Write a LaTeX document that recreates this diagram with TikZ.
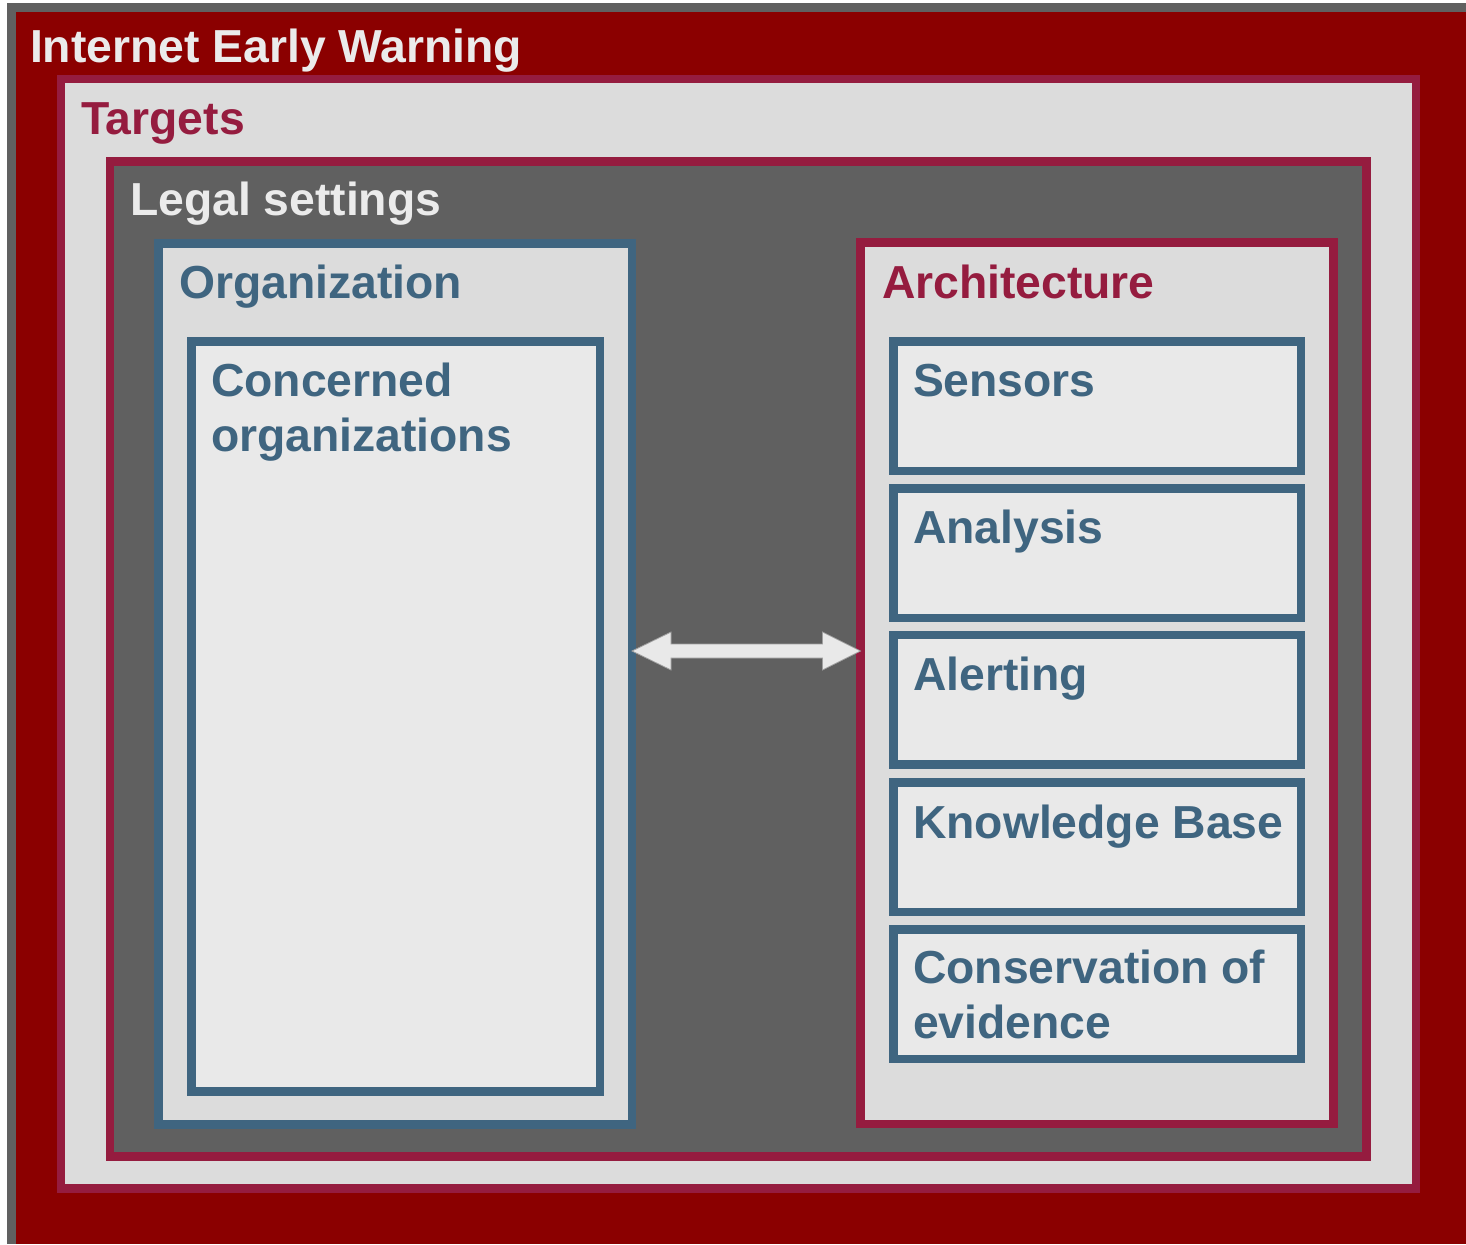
\documentclass[tikz,border=0pt]{standalone}
\usepackage{fontspec}
\setmainfont{Liberation Sans}
\usetikzlibrary{calc}
\definecolor{bgred}{HTML}{8B0000}
\definecolor{crim}{HTML}{951C3F}
\definecolor{dgray}{HTML}{606060}
\definecolor{lgray}{HTML}{DCDCDC}
\definecolor{pale}{HTML}{E9E9E9}
\definecolor{steel}{HTML}{3F6580}
\definecolor{wtext}{HTML}{EBEBEB}
\begin{document}
\begin{tikzpicture}[x=1pt,y=-1pt,
  frame/.style={draw, line width=8.5pt, inner sep=0pt, outer sep=0pt},
  redframe/.style={frame, draw=crim},
  blueframe/.style={frame, draw=steel},
  lbl/.style={inner sep=0pt, outer sep=0pt, anchor=base west, align=left,
    font=\bfseries\fontsize{46.3}{54.5}\selectfont},
  arrowshape/.style={fill=pale, draw=gray!75, line width=0.8pt, line join=miter}
]
\useasboundingbox (0,0) rectangle (1466,1244);
\fill[white] (0,0) rectangle (1466,1244);
\fill[dgray] (7,3) rectangle (1466,1244);
\fill[bgred] (16,12) rectangle (1466,1244);

% nested boxes
\node[redframe, fill=lgray, minimum width=1355pt, minimum height=1109.5pt] (targets) at (738.5,633.75) {};
\node[redframe, fill=dgray, minimum width=1256.5pt, minimum height=995pt] (legal) at (738.25,659) {};
\node[blueframe, fill=lgray, minimum width=473.5pt, minimum height=881pt] (org) at (395.25,684) {};
\node[blueframe, fill=pale, minimum width=408.5pt, minimum height=750pt] (concerned) at (395.75,716.5) {};
\node[redframe, fill=lgray, minimum width=473pt, minimum height=881.5pt] (arch) at (1097,683.25) {};
\node[blueframe, fill=pale, minimum width=407.5pt, minimum height=129.5pt] (sensors) at (1097.25,406) {};
\node[blueframe, fill=pale, minimum width=407.5pt, minimum height=129.5pt] (analysis) at (1097.25,553) {};
\node[blueframe, fill=pale, minimum width=407.5pt, minimum height=129.5pt] (alerting) at (1097.25,699.5) {};
\node[blueframe, fill=pale, minimum width=407.5pt, minimum height=129.5pt] (kb) at (1097.25,847) {};
\node[blueframe, fill=pale, minimum width=407.5pt, minimum height=129.5pt] (cons) at (1097.25,994) {};

% labels (base anchor = baseline of the last line)
\node[lbl, text=wtext] (tiew) at (30,63) {Internet Early Warning};
\node[lbl, text=crim] (ttargets) at (81,135) {Targets};
\node[lbl, text=wtext] (tlegal) at (130,215) {Legal settings};
\node[lbl, text=steel] (torg) at (179,298) {Organization};
\node[lbl, text=steel] (tconc) at (211,451) {Concerned\\organizations};
\node[lbl, text=crim] (tarch) at (882,298) {Architecture};
\node[lbl, text=steel] (tsens) at (913,396) {Sensors};
\node[lbl, text=steel] (tana) at (913,543) {Analysis};
\node[lbl, text=steel] (talert) at (913,690) {Alerting};
\node[lbl, text=steel] (tkb) at (913,838) {Knowledge Base};
\node[lbl, text=steel] (tcons) at (913,1038) {Conservation of\\evidence};

% double arrow between Organization and Architecture
\coordinate (ay) at (0,651);
\coordinate (A) at (org.east |- ay);
\coordinate (B) at (arch.west |- ay);
\filldraw[arrowshape] (A) -- ($(A)+(39,-19)$) -- ($(A)+(39,-7)$) -- ($(B)+(-38,-7)$)
  -- ($(B)+(-38,-19)$) -- (B) -- ($(B)+(-38,19)$) -- ($(B)+(-38,7)$)
  -- ($(A)+(39,7)$) -- ($(A)+(39,19)$) -- cycle;
\end{tikzpicture}
\end{document}
